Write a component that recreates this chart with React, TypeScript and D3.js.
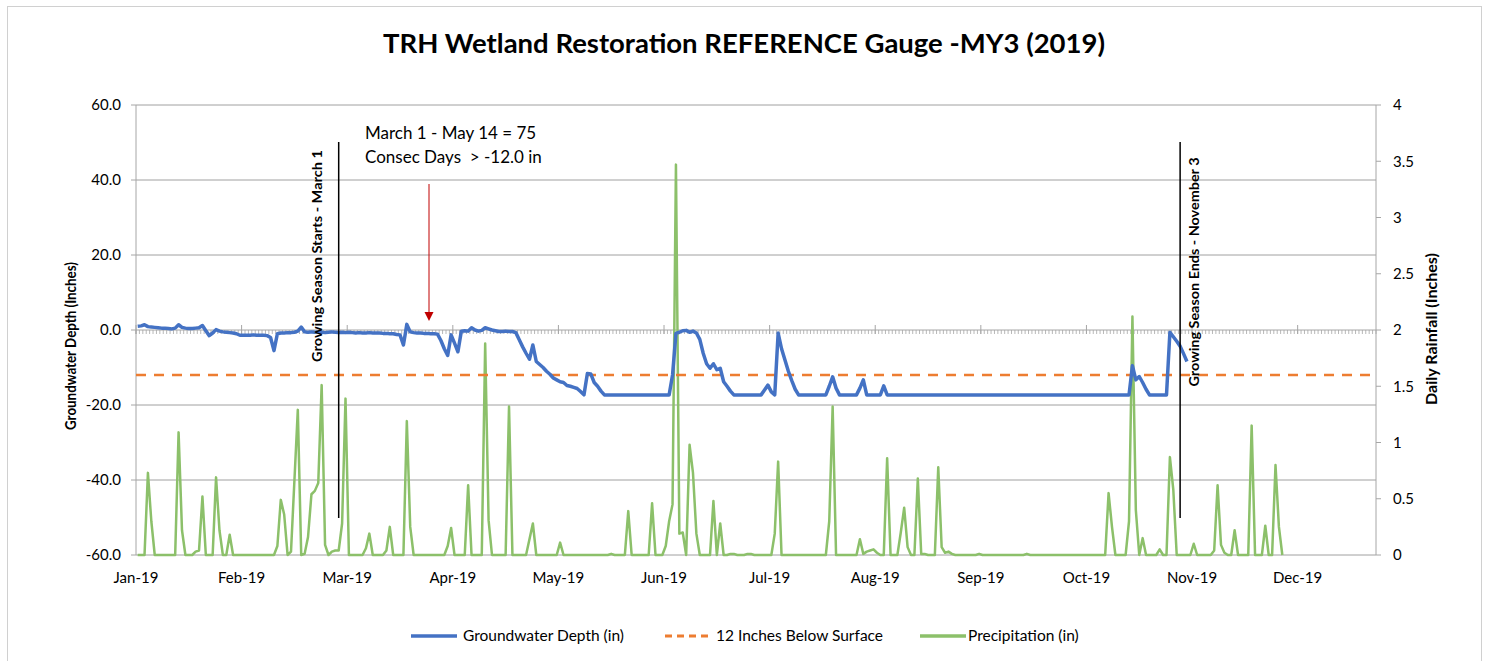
import React from "react";
import * as d3 from "d3";

// daily categories, Jan 1 2019 onward
const startDate = new Date(2019, 0, 1);
const dayCount = 364;
const labelEvery = 31;
const leftTicks = [60, 40, 20, 0, -20, -40, -60];
const rightTicks = [4, 3.5, 3, 2.5, 2, 1.5, 1, 0.5, 0];
const thresholdDepth = -12;
const seasonStartDay = 59; // March 1
const seasonEndDay = 306; // November 3

const seriesNames = ["Groundwater Depth (in)", "12 Inches Below Surface", "Precipitation (in)"];

// groundwater depth (in), one value a day from Jan 1
const groundwater = [
  1.0, 1.1, 1.4, 0.9, 0.8, 0.7, 0.6, 0.5, 0.5, 0.4,
  0.3, 0.5, 1.4, 0.7, 0.5, 0.4, 0.4, 0.5, 0.6, 1.2,
  -0.2, -1.5, -0.8, 0.1, -0.3, -0.5, -0.6, -0.7, -0.8, -1.0,
  -1.4, -1.4, -1.4, -1.4, -1.3, -1.4, -1.4, -1.4, -1.5, -2.0,
  -5.5, -1.0, -0.8, -0.8, -0.7, -0.7, -0.6, -0.3, 0.8, -0.5,
  -0.6, -0.5, -0.6, -0.5, -0.6, -0.7, -0.6, -0.5, -0.6, -0.7,
  -0.6, -0.7, -0.6, -0.7, -0.8, -0.7, -0.8, -0.8, -0.7, -0.8,
  -0.8, -0.8, -0.9, -0.9, -1.0, -1.0, -1.2, -1.3, -4.0, 1.5,
  -0.5, -0.7, -0.8, -0.8, -0.9, -0.9, -1.0, -1.0, -1.1, -2.8,
  -5.0, -6.8, -1.3, -3.5, -5.8, -0.3, -0.2, -0.3, 0.6, 0.0,
  -0.3, -0.1, 0.6, 0.3, 0.0, -0.2, -0.4, -0.4, -0.3, -0.4,
  -0.4, -0.7, -2.6, -4.5, -6.2, -7.8, -4.0, -8.4, -9.2, -10.0,
  -11.0, -11.8, -12.8, -13.3, -13.8, -14.0, -14.8, -15.0, -15.3, -15.6,
  -16.4, -17.3, -11.6, -11.7, -14.0, -15.0, -16.3, -17.3, -17.3, -17.3,
  -17.3, -17.3, -17.3, -17.3, -17.3, -17.3, -17.3, -17.3, -17.3, -17.3,
  -17.3, -17.3, -17.3, -17.3, -17.3, -17.3, -17.3, -12.0, -0.9, -0.6,
  -0.2, -0.1, -0.6, -0.3, -0.8, -2.5, -6.2, -9.0, -10.2, -9.0,
  -10.6, -10.2, -13.8, -15.0, -16.3, -17.3, -17.3, -17.3, -17.3, -17.3,
  -17.3, -17.3, -17.3, -17.3, -16.0, -14.7, -16.5, -17.3, -0.8, -5.0,
  -8.0, -11.0, -13.5, -15.8, -17.3, -17.3, -17.3, -17.3, -17.3, -17.3,
  -17.3, -17.3, -17.3, -15.0, -12.5, -15.5, -17.3, -17.3, -17.3, -17.3,
  -17.3, -17.3, -15.5, -13.3, -17.3, -17.3, -17.3, -17.3, -17.3, -14.9,
  -17.3, -17.3, -17.3, -17.3, -17.3, -17.3, -17.3, -17.3, -17.3, -17.3,
  -17.3, -17.3, -17.3, -17.3, -17.3, -17.3, -17.3, -17.3, -17.3, -17.3,
  -17.3, -17.3, -17.3, -17.3, -17.3, -17.3, -17.3, -17.3, -17.3, -17.3,
  -17.3, -17.3, -17.3, -17.3, -17.3, -17.3, -17.3, -17.3, -17.3, -17.3,
  -17.3, -17.3, -17.3, -17.3, -17.3, -17.3, -17.3, -17.3, -17.3, -17.3,
  -17.3, -17.3, -17.3, -17.3, -17.3, -17.3, -17.3, -17.3, -17.3, -17.3,
  -17.3, -17.3, -17.3, -17.3, -17.3, -17.3, -17.3, -17.3, -17.3, -17.3,
  -17.3, -17.3, -9.5, -13.3, -12.4, -14.0, -15.8, -17.3, -17.3, -17.3,
  -17.3, -17.3, -17.3, -0.6, -1.8, -3.0, -4.3, -6.3, -8.4,
];

// daily rainfall (in), one value a day from Jan 1
const precipitation = [
  0, 0, 0, 0.73, 0.3, 0, 0, 0, 0, 0,
  0, 0, 1.09, 0.22, 0, 0, 0, 0.03, 0.04, 0.52,
  0, 0, 0, 0.69, 0.22, 0, 0, 0.18, 0, 0,
  0, 0, 0, 0, 0, 0, 0, 0, 0, 0,
  0, 0.08, 0.49, 0.36, 0, 0.03, 0.66, 1.29, 0, 0.01,
  0.16, 0.54, 0.57, 0.64, 1.51, 0.09, 0, 0.03, 0.04, 0.04,
  0.28, 1.39, 0, 0, 0, 0, 0, 0.06, 0.19, 0,
  0, 0, 0, 0.04, 0.25, 0, 0, 0, 0, 1.19,
  0.25, 0, 0, 0, 0, 0, 0, 0, 0, 0,
  0, 0.08, 0.24, 0, 0, 0, 0, 0.62, 0, 0,
  0, 0, 1.88, 0.31, 0, 0, 0, 0, 0, 1.32,
  0, 0, 0, 0, 0, 0.14, 0.28, 0, 0, 0,
  0, 0, 0, 0, 0.11, 0, 0, 0, 0, 0,
  0, 0, 0, 0, 0, 0, 0, 0, 0, 0.01,
  0, 0, 0, 0, 0.39, 0, 0, 0, 0, 0,
  0, 0.46, 0, 0, 0, 0.08, 0.3, 0.45, 3.47, 0.19,
  0.2, 0, 0.98, 0.73, 0.19, 0, 0, 0, 0, 0.48,
  0, 0.28, 0, 0, 0.01, 0.01, 0, 0, 0, 0.01,
  0.01, 0, 0, 0, 0, 0, 0, 0.19, 0.83, 0,
  0, 0, 0, 0, 0, 0, 0, 0, 0, 0,
  0, 0, 0, 0.3, 1.32, 0, 0, 0, 0, 0,
  0, 0, 0.14, 0.01, 0.03, 0.04, 0.05, 0.02, 0, 0,
  0.86, 0, 0, 0, 0.2, 0.42, 0.07, 0, 0, 0.68,
  0.01, 0.01, 0, 0, 0, 0.78, 0.07, 0.02, 0.03, 0.01,
  0, 0, 0, 0, 0, 0, 0, 0.01, 0, 0,
  0, 0, 0, 0, 0, 0, 0, 0, 0, 0,
  0, 0.01, 0, 0, 0, 0, 0, 0, 0, 0,
  0, 0, 0, 0, 0, 0, 0, 0, 0, 0,
  0, 0, 0, 0, 0, 0.55, 0.25, 0, 0, 0,
  0, 0.3, 2.12, 0.4, 0, 0.15, 0, 0, 0, 0,
  0.05, 0, 0, 0.87, 0.58, 0, 0, 0, 0, 0,
  0.1, 0, 0, 0, 0, 0, 0.04, 0.62, 0.09, 0.02,
  0, 0, 0.22, 0, 0, 0, 0, 1.15, 0, 0,
  0, 0.26, 0, 0, 0.8, 0.25, 0,
];

const W = 1489;
const H = 661;
const plot = { left: 136, right: 1376, top: 105, bottom: 555 };
const font = "Lato, 'Noto Sans', sans-serif";

export default function App() {
  const x = d3.scaleLinear().domain([0, dayCount]).range([plot.left, plot.right]);
  const yL = d3.scaleLinear().domain([-60, 60]).range([plot.bottom, plot.top]);
  const yR = d3.scaleLinear().domain([0, 4]).range([plot.bottom, plot.top]);
  const fmt = d3.timeFormat("%b-%y");

  const gwLine = d3.line<number>().x((_, i) => x(i + 0.5)).y((d) => yL(d))(groundwater) || "";
  const rainLine = d3.line<number>().x((_, i) => x(i + 0.5)).y((d) => yR(d))(precipitation) || "";

  const majorTicks = d3.range(0, dayCount, labelEvery);
  const minorTicks = d3.range(0, dayCount + 1);

  const arrowX = 429;
  const axisColor = "#a6a6a6";
  const gridColor = "#a0a0a0";

  const legendY = 636;
  const legend = [
    { x0: 411, tx: 463, color: "#4472c4", dash: "", w: 3.5 },
    { x0: 665, tx: 716, color: "#ed7d31", dash: "7,5", w: 3 },
    { x0: 920, tx: 968, color: "#8cc06a", dash: "", w: 3.5 },
  ];

  return (
    <svg width={W} height={H} style={{ position: "absolute", left: 0, top: 0, background: "#fff" }} fontFamily={font}>
      <rect x={7.5} y={6.5} width={1474} height={H} fill="#fff" stroke="#d0d0d0" />
      <text x={744} y={53} textAnchor="middle" fontSize={27} fontWeight="bold" fill="#000" textLength={722} lengthAdjust="spacingAndGlyphs">
        TRH Wetland Restoration REFERENCE Gauge -MY3 (2019)
      </text>

      {/* gridlines */}
      {leftTicks.filter((t) => t !== 0).map((t) => (
        <line key={t} x1={plot.left} x2={plot.right} y1={yL(t)} y2={yL(t)} stroke={gridColor} strokeWidth={1} />
      ))}

      {/* axes */}
      <line x1={plot.left} x2={plot.left} y1={plot.top} y2={plot.bottom} stroke={axisColor} />
      <line x1={plot.right} x2={plot.right} y1={plot.top} y2={plot.bottom} stroke={axisColor} />
      {leftTicks.map((t) => (
        <g key={t}>
          <line x1={plot.left - 5} x2={plot.left} y1={yL(t)} y2={yL(t)} stroke={axisColor} />
          <text x={121} y={yL(t)} dy="0.35em" textAnchor="end" fontSize={15} fill="#000">
            {t.toFixed(1)}
          </text>
        </g>
      ))}
      {rightTicks.map((t) => (
        <g key={t}>
          <line x1={plot.right} x2={plot.right + 5} y1={yR(t)} y2={yR(t)} stroke={axisColor} />
          <text x={1393} y={yR(t)} dy="0.35em" textAnchor="start" fontSize={15} fill="#000">
            {t}
          </text>
        </g>
      ))}

      {/* category axis at zero */}
      <line x1={plot.left} x2={plot.right} y1={yL(0)} y2={yL(0)} stroke={axisColor} />
      {minorTicks.map((i) => (
        <line key={i} x1={x(i)} x2={x(i)} y1={yL(0)} y2={yL(0) + 4} stroke={axisColor} strokeWidth={0.8} />
      ))}
      {majorTicks.map((i) => (
        <g key={i}>
          <line x1={x(i)} x2={x(i)} y1={yL(0) - 5} y2={yL(0) + 4} stroke={axisColor} />
          <text x={x(i)} y={578} dy="0.35em" textAnchor="middle" fontSize={15} fill="#000">
            {fmt(d3.timeDay.offset(startDate, i))}
          </text>
        </g>
      ))}

      <text transform="translate(76,346) rotate(-90)" textAnchor="middle" fontSize={14.5} fontWeight="bold" textLength={168} lengthAdjust="spacingAndGlyphs">
        Groundwater Depth (Inches)
      </text>
      <text transform="translate(1437,329) rotate(-90)" textAnchor="middle" fontSize={15} fontWeight="bold" textLength={152} lengthAdjust="spacingAndGlyphs">
        Daily Rainfall (Inches)
      </text>

      {/* series */}
      <path d={rainLine} fill="none" stroke="#8cc06a" strokeWidth={2.5} strokeLinejoin="round" />
      <line x1={plot.left} x2={plot.right} y1={yL(thresholdDepth)} y2={yL(thresholdDepth)} stroke="#ed7d31" strokeWidth={2.5} strokeDasharray="10,8" />
      <path d={gwLine} fill="none" stroke="#4472c4" strokeWidth={3.5} strokeLinejoin="round" />

      {/* growing season markers */}
      {[seasonStartDay, seasonEndDay].map((d) => (
        <line key={d} x1={x(d + 0.5)} x2={x(d + 0.5)} y1={142} y2={518} stroke="#000" strokeWidth={1.5} />
      ))}
      <text transform={`translate(${x(seasonStartDay + 0.5) - 17},256) rotate(-90)`} textAnchor="middle" fontSize={14} fontWeight="bold" textLength={212} lengthAdjust="spacingAndGlyphs">
        Growing Season Starts  - March 1
      </text>
      <text transform={`translate(${x(seasonEndDay + 0.5) + 19},272) rotate(-90)`} textAnchor="middle" fontSize={14} fontWeight="bold" textLength={229} lengthAdjust="spacingAndGlyphs">
        Growing Season Ends  - November 3
      </text>

      {/* annotation */}
      <text x={365} y={139} fontSize={17} fill="#000">March 1 - May 14 = 75</text>
      <text x={365} y={163} fontSize={17} fill="#000" style={{ whiteSpace: "pre" }}>Consec Days  &gt; -12.0 in</text>
      <line x1={arrowX} x2={arrowX} y1={184} y2={313} stroke="#c00000" strokeWidth={1} />
      <path d={`M${arrowX - 4.5},312 L${arrowX + 4.5},312 L${arrowX},321 Z`} fill="#c00000" />

      {/* legend */}
      {legend.map((l, k) => (
        <g key={k}>
          <line x1={l.x0} x2={l.x0 + 46} y1={legendY} y2={legendY} stroke={l.color} strokeWidth={l.w} strokeDasharray={l.dash} />
          <text x={l.tx} y={legendY} dy="0.35em" fontSize={15.5} fill="#000">
            {seriesNames[k]}
          </text>
        </g>
      ))}
    </svg>
  );
}
